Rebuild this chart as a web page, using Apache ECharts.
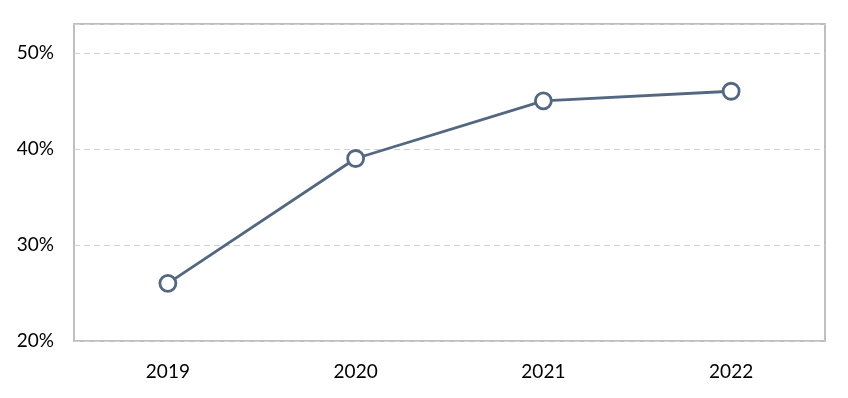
<!DOCTYPE html>
<html>
<head>
<meta charset="utf-8">
<script src="https://cdn.jsdelivr.net/npm/echarts@6/dist/echarts.min.js"></script>
<style>html,body{margin:0;padding:0;background:#fff}#c{width:848px;height:398px}</style>
</head>
<body>
<div id="c"></div>
<script>
const categories = ['2019', '2020', '2021', '2022'];
const values = [0.26, 0.39, 0.45, 0.46];
const yTicks = [0.2, 0.3, 0.4, 0.5];

const chart = echarts.init(document.getElementById('c'), null, {renderer: 'canvas'});
chart.setOption({
  animation: false,
  backgroundColor: '#ffffff',
  grid: {left: 74, right: 23, top: 24, bottom: 57, show: true, borderColor: '#bfbfbf', borderWidth: 2, containLabel: false},
  xAxis: {
    type: 'category',
    data: categories,
    boundaryGap: true,
    axisLine: {show: false},
    axisTick: {show: false},
    axisLabel: {color: '#000', fontSize: 19, fontFamily: 'Lato', margin: 21}
  },
  yAxis: {
    type: 'value',
    min: 0.2,
    max: 0.53,
    interval: 0.1,
    axisLine: {show: false},
    axisTick: {show: false},
    splitLine: {show: true, lineStyle: {color: '#d0d0d0', type: [6, 4], width: 1.2}},
    axisLabel: {
      color: '#000', fontSize: 19, fontFamily: 'Lato', margin: 20,
      showMaxLabel: false,
      formatter: v => yTicks.some(t => Math.abs(t - v) < 1e-6) ? Math.round(v * 100) + '%' : ''
    }
  },
  series: [{
    type: 'line',
    data: values,
    symbol: 'circle',
    symbolSize: 16,
    lineStyle: {color: '#536880', width: 2.8},
    itemStyle: {color: '#ffffff', borderColor: '#536880', borderWidth: 2.8},
    z: 3
  }]
});
</script>
</body>
</html>
